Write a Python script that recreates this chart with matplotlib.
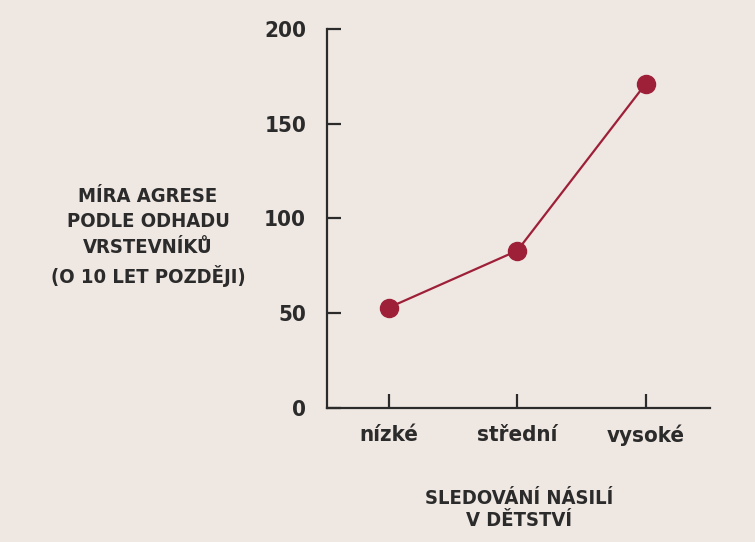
import matplotlib
matplotlib.use("Agg")
import matplotlib.pyplot as plt

# data
categories = ["nízké", "střední", "vysoké"]
aggression = [53, 83, 171]
y_ticks = [0, 50, 100, 150, 200]

BG = "#efe7e2"
INK = "#2b2b2b"
RED = "#9e2038"

plt.rcParams["font.family"] = ["DejaVu Sans"]
plt.rcParams["font.weight"] = "bold"
plt.rcParams["font.stretch"] = "condensed"

fig = plt.figure(figsize=(7.55, 5.42), dpi=100, facecolor=BG)
ax = fig.add_axes([0.433, 0.247, 0.507, 0.700])
ax.set_facecolor(BG)

x = list(range(len(categories)))
ax.plot(x, aggression, color=RED, lw=1.6, marker="o", ms=13,
        markerfacecolor=RED, markeredgecolor=RED, zorder=3)

ax.set_xlim(-0.482, 2.498)
ax.set_ylim(0, 200)
ax.set_xticks(x)
ax.set_xticklabels(categories)
ax.set_yticks(y_ticks)

for side in ("top", "right"):
    ax.spines[side].set_visible(False)
for side in ("left", "bottom"):
    ax.spines[side].set_color(INK)
    ax.spines[side].set_linewidth(1.6)

ax.tick_params(axis="both", direction="in", length=10, width=1.6,
               color=INK, labelcolor=INK, labelsize=16)
ax.tick_params(axis="y", pad=15)
ax.tick_params(axis="x", pad=12)
for lbl in ax.get_xticklabels() + ax.get_yticklabels():
    lbl.set_fontweight("bold")

fig.text(0.196, 0.563, "MÍRA AGRESE\nPODLE ODHADU\nVRSTEVNÍKŮ\n(O 10 LET POZDĚJI)",
         ha="center", va="center", fontsize=14.5, fontweight="bold",
         color=INK, linespacing=1.45)
fig.text(0.687, 0.060, "SLEDOVÁNÍ NÁSILÍ\nV DĚTSTVÍ",
         ha="center", va="center", fontsize=14.5, fontweight="bold",
         color=INK, linespacing=1.25)

fig.savefig("out.png", dpi=100, facecolor=BG)
